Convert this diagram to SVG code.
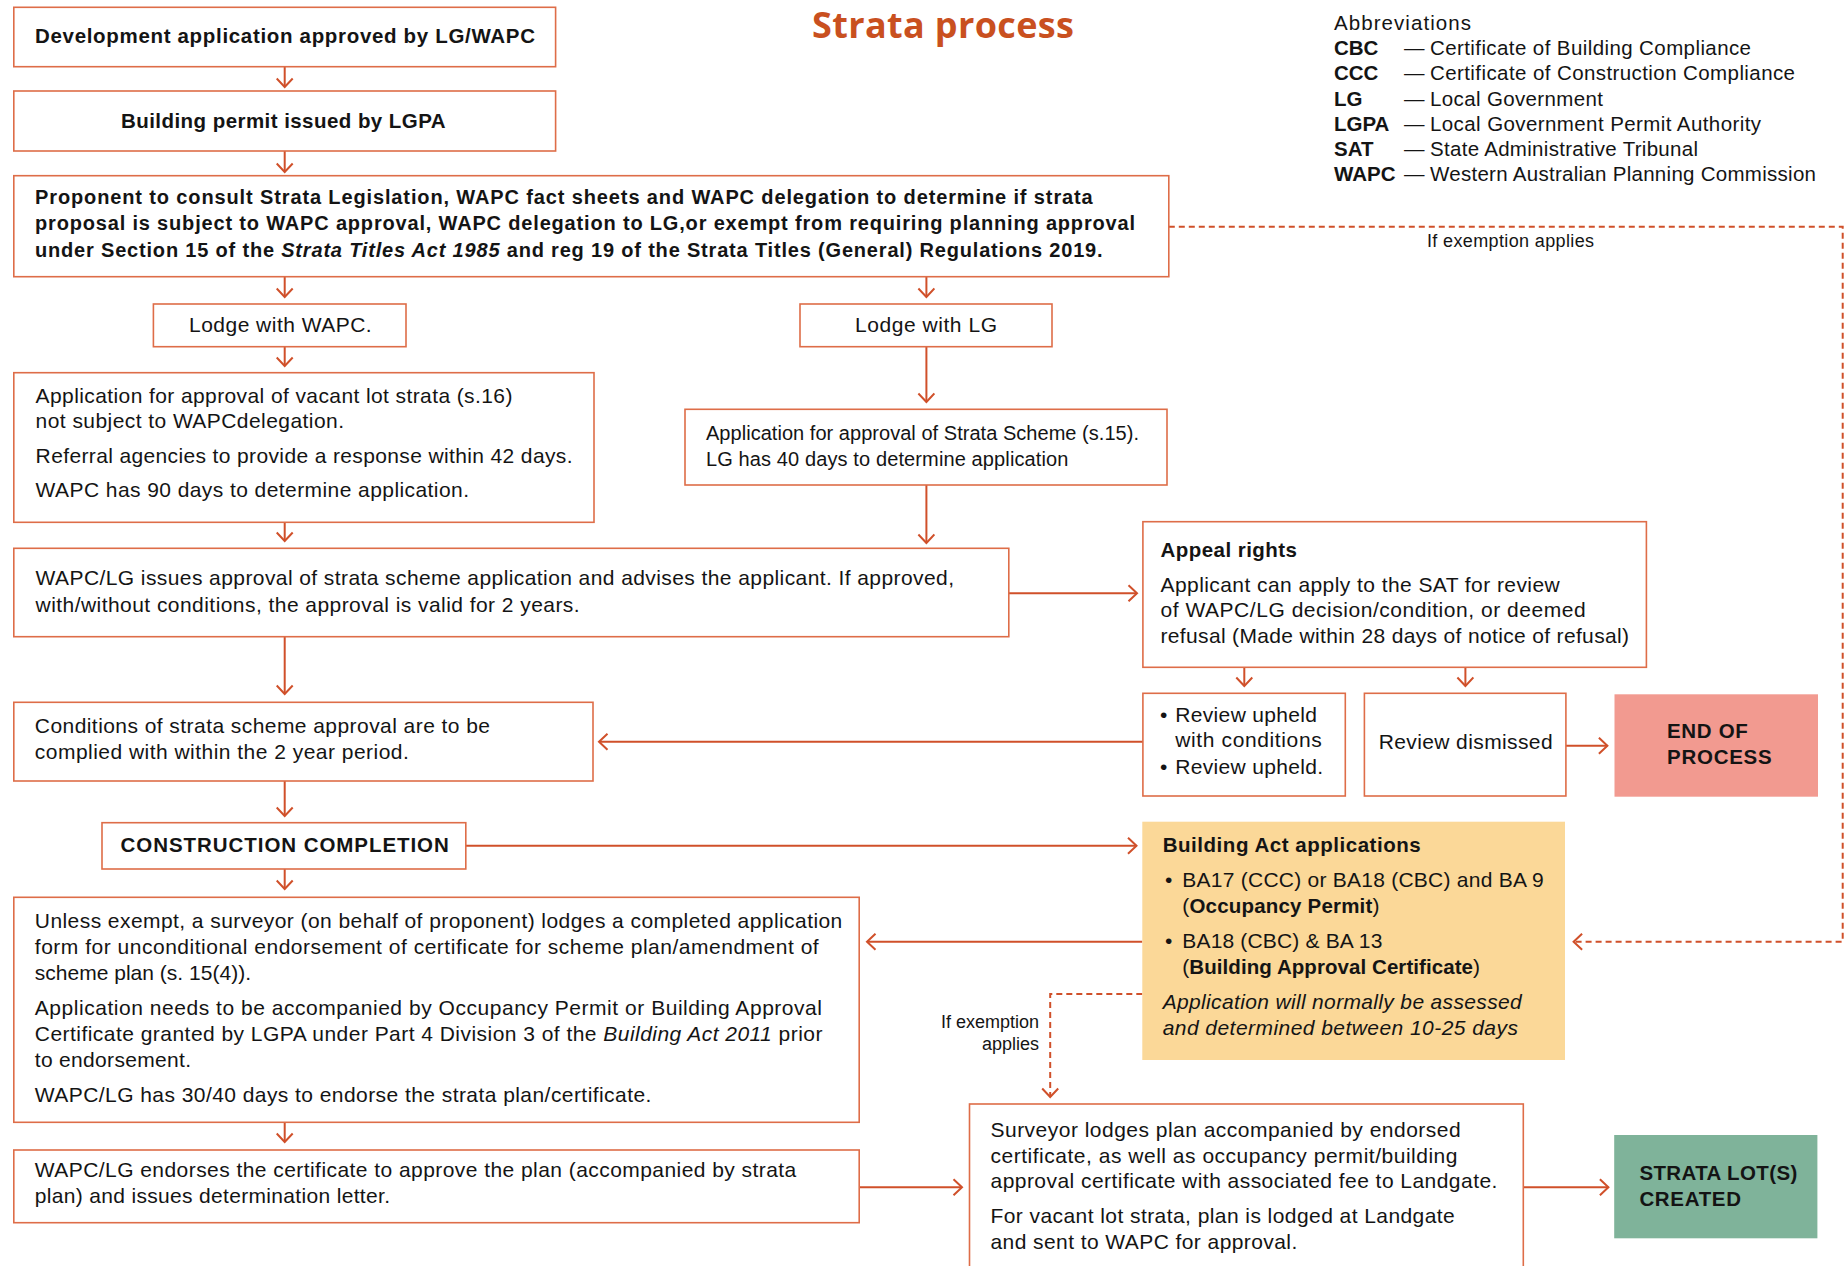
<svg xmlns="http://www.w3.org/2000/svg" width="1847" height="1266" viewBox="0 0 1847 1266">
<defs>
<style>
.bx{fill:#fff;stroke:#DE6D48;stroke-width:1.6}
.c{fill:none;stroke:#D0502A;stroke-width:2;marker-end:url(#arr)}
.d{fill:none;stroke:#D0502A;stroke-width:2;stroke-dasharray:6 4;marker-end:url(#arr)}
text{font-family:"Liberation Sans",Arial,sans-serif;font-size:21px;fill:#141414}
.b{font-weight:bold;font-size:20.5px}
.i{font-style:italic}
.sm{font-size:18px}
.h{font-size:20px;font-weight:bold}
.n{font-size:20px}
.ab{font-size:20.5px}
</style>
<marker id="arr" viewBox="0 0 12 18" refX="10" refY="9" markerWidth="12" markerHeight="18" orient="auto" markerUnits="userSpaceOnUse">
<path d="M1.5,1 L10,9 L1.5,17" fill="none" stroke="#D0502A" stroke-width="2"/>
</marker>
</defs>
<rect width="1847" height="1266" fill="#fff"/>

<g id="title">
<text x="812" y="38" textLength="262" style="font-family:'Open Sans','Liberation Sans',sans-serif;font-size:36px;font-weight:bold;fill:#C9501F">Strata process</text>
</g>

<g id="abbreviations">
<text class="ab" x="1334" y="30" textLength="137">Abbreviations</text>
<text class="b" x="1334" y="55.3">CBC</text>
<text class="b" x="1334" y="80.4">CCC</text>
<text class="b" x="1334" y="105.5">LG</text>
<text class="b" x="1334" y="130.6">LGPA</text>
<text class="b" x="1334" y="155.7">SAT</text>
<text class="b" x="1334" y="180.8">WAPC</text>
<text class="ab" x="1404" y="55.3">—</text>
<text class="ab" x="1404" y="80.4">—</text>
<text class="ab" x="1404" y="105.5">—</text>
<text class="ab" x="1404" y="130.6">—</text>
<text class="ab" x="1404" y="155.7">—</text>
<text class="ab" x="1404" y="180.8">—</text>
<text class="ab" x="1430" y="55.3" textLength="321">Certificate of Building Compliance</text>
<text class="ab" x="1430" y="80.4" textLength="365">Certificate of Construction Compliance</text>
<text class="ab" x="1430" y="105.5" textLength="173">Local Government</text>
<text class="ab" x="1430" y="130.6" textLength="331">Local Government Permit Authority</text>
<text class="ab" x="1430" y="155.7" textLength="268">State Administrative Tribunal</text>
<text class="ab" x="1430" y="180.8" textLength="386">Western Australian Planning Commission</text>
</g>

<g id="connectors">
<path class="c" d="M284.7,67 V87"/>
<path class="c" d="M284.7,151 V172"/>
<path class="c" d="M284.7,277 V297"/>
<path class="c" d="M926.4,277 V297"/>
<path class="c" d="M284.7,347 V366"/>
<path class="c" d="M926.4,347 V402"/>
<path class="c" d="M284.7,522.3 V541"/>
<path class="c" d="M926.4,485 V543"/>
<path class="c" d="M1009,593.3 H1137"/>
<path class="c" d="M1244.3,667.3 V686"/>
<path class="c" d="M1465.4,667.3 V686"/>
<path class="c" d="M1566,745.7 H1607.4"/>
<path class="c" d="M1143,741.7 H599"/>
<path class="c" d="M284.7,636.7 V694"/>
<path class="c" d="M284.7,781 V816"/>
<path class="c" d="M465.8,845.7 H1136.5"/>
<path class="c" d="M284.7,869 V889"/>
<path class="c" d="M1142.3,941.7 H867"/>
<path class="d" d="M1142.3,994 H1050.2 V1097"/>
<path class="c" d="M284.7,1122.3 V1142"/>
<path class="c" d="M859.2,1187.3 H962"/>
<path class="c" d="M1523.3,1187.3 H1608.4"/>
<path class="d" d="M1168.8,226.7 H1842.7 V941.7 H1573.6"/>
<text class="sm" x="1427" y="246.7" textLength="167">If exemption applies</text>
<text class="sm" x="1039" y="1028.3" text-anchor="end">If exemption</text>
<text class="sm" x="1039" y="1050" text-anchor="end">applies</text>
</g>

<g id="n-dev-approved">
<rect class="bx" x="13.8" y="7.3" width="541.8" height="59.4"/>
<text class="b" x="35" y="43" textLength="500">Development application approved by LG/WAPC</text>
</g>

<g id="n-building-permit">
<rect class="bx" x="13.8" y="91" width="541.8" height="60"/>
<text class="b" x="121" y="128.3" textLength="324.6">Building permit issued by LGPA</text>
</g>

<g id="n-proponent">
<rect class="bx" x="13.8" y="175.7" width="1155" height="101"/>
<text class="h" x="35" y="204" textLength="1057.7">Proponent to consult Strata Legislation, WAPC fact sheets and WAPC delegation to determine if strata</text>
<text class="h" x="35" y="230" textLength="1100">proposal is subject to WAPC approval, WAPC delegation to LG,or exempt from requiring planning approval</text>
<text class="h" x="35" y="256.7" textLength="1067.6">under Section 15 of the <tspan class="i">Strata Titles Act 1985</tspan> and reg 19 of the Strata Titles (General) Regulations 2019.</text>
</g>

<g id="n-lodge-wapc">
<rect class="bx" x="153.4" y="304" width="252.6" height="42.7"/>
<text x="189" y="331.7" textLength="182.7">Lodge with WAPC.</text>
</g>

<g id="n-lodge-lg">
<rect class="bx" x="800" y="304" width="252" height="42.7"/>
<text x="855" y="331.7" textLength="142">Lodge with LG</text>
</g>

<g id="n-vacant-lot">
<rect class="bx" x="13.8" y="372.7" width="580.2" height="149.6"/>
<text x="35.6" y="403.3" textLength="476.8">Application for approval of vacant lot strata (s.16)</text>
<text x="35.6" y="428.3" textLength="308.4">not subject to WAPCdelegation.</text>
<text x="35.6" y="463.3" textLength="536.9">Referral agencies to provide a response within 42 days.</text>
<text x="35.6" y="496.7" textLength="433.4">WAPC has 90 days to determine application.</text>
</g>

<g id="n-strata-scheme">
<rect class="bx" x="685" y="409.3" width="482" height="75.7"/>
<text class="n" x="706" y="440" textLength="433">Application for approval of Strata Scheme (s.15).</text>
<text class="n" x="706" y="465.7" textLength="362.4">LG has 40 days to determine application</text>
</g>

<g id="n-issues-approval">
<rect class="bx" x="13.8" y="548.3" width="995" height="88.4"/>
<text x="35.6" y="585" textLength="918.4">WAPC/LG issues approval of strata scheme application and advises the applicant. If approved,</text>
<text x="35.6" y="611.7" textLength="544">with/without conditions, the approval is valid for 2 years.</text>
</g>

<g id="n-appeal">
<rect class="bx" x="1142.9" y="521.7" width="503.5" height="145.6"/>
<text class="b" x="1160.5" y="557.3" textLength="136.5">Appeal rights</text>
<text x="1160.5" y="591.7" textLength="399.2">Applicant can apply to the SAT for review</text>
<text x="1160.5" y="617.3" textLength="425.1">of WAPC/LG decision/condition, or deemed</text>
<text x="1160.5" y="643.3" textLength="468.5">refusal (Made within 28 days of notice of refusal)</text>
</g>

<g id="n-review-upheld">
<rect class="bx" x="1142.9" y="693.3" width="202.4" height="102.7"/>
<text x="1160" y="721.7">•</text>
<text x="1175.3" y="721.7" textLength="141.7">Review upheld</text>
<text x="1175.3" y="747.3" textLength="146.4">with conditions</text>
<text x="1160" y="774">•</text>
<text x="1175.3" y="774" textLength="147.7">Review upheld.</text>
</g>

<g id="n-review-dismissed">
<rect class="bx" x="1364.4" y="693.3" width="201.5" height="102.7"/>
<text x="1378.7" y="749.3" textLength="173.9">Review dismissed</text>
</g>

<g id="n-end">
<rect x="1614.5" y="694.3" width="203.5" height="102.4" fill="#F29A90"/>
<text class="b" x="1667" y="738.3" textLength="80.9">END OF</text>
<text class="b" x="1667" y="764" textLength="104.7">PROCESS</text>
</g>

<g id="n-conditions">
<rect class="bx" x="13.8" y="702.3" width="579.2" height="78.7"/>
<text x="34.8" y="733.3" textLength="455.2">Conditions of strata scheme approval are to be</text>
<text x="34.8" y="759.3" textLength="374">complied with within the 2 year period.</text>
</g>

<g id="n-construction">
<rect class="bx" x="102" y="822.7" width="363.8" height="46.3"/>
<text class="b" x="120.6" y="851.7" textLength="328.2">CONSTRUCTION COMPLETION</text>
</g>

<g id="n-building-act">
<rect x="1142.3" y="821.7" width="422.7" height="238.3" fill="#FBD898"/>
<text class="b" x="1162.7" y="851.7" textLength="258">Building Act applications</text>
<text x="1165" y="887.3">•</text>
<text x="1182.3" y="887.3" textLength="361.5">BA17 (CCC) or BA18 (CBC) and BA 9</text>
<text x="1182.3" y="913.3" textLength="197.2">(<tspan class="b">Occupancy Permit</tspan>)</text>
<text x="1165" y="948.3">•</text>
<text x="1182.3" y="948.3" textLength="200.1">BA18 (CBC) &amp; BA 13</text>
<text x="1182.3" y="974" textLength="297.7">(<tspan class="b">Building Approval Certificate</tspan>)</text>
<text class="i" x="1162.7" y="1009.3" textLength="359">Application will normally be assessed</text>
<text class="i" x="1162.7" y="1035" textLength="355.2">and determined between 10-25 days</text>
</g>

<g id="n-surveyor-application">
<rect class="bx" x="13.8" y="897.3" width="845.4" height="225"/>
<text x="34.8" y="928.3" textLength="807.5">Unless exempt, a surveyor (on behalf of proponent) lodges a completed application</text>
<text x="34.8" y="954" textLength="783.9">form for unconditional endorsement of certificate for scheme plan/amendment of</text>
<text x="34.8" y="980" textLength="216.2">scheme plan (s. 15(4)).</text>
<text x="34.8" y="1015" textLength="787.2">Application needs to be accompanied by Occupancy Permit or Building Approval</text>
<text x="34.8" y="1040.7" textLength="787.6">Certificate granted by LGPA under Part 4 Division 3 of the <tspan class="i">Building Act 2011</tspan> prior</text>
<text x="34.8" y="1067.3" textLength="156.2">to endorsement.</text>
<text x="34.8" y="1101.7" textLength="616.6">WAPC/LG has 30/40 days to endorse the strata plan/certificate.</text>
</g>

<g id="n-endorses">
<rect class="bx" x="13.8" y="1150" width="845.4" height="72.7"/>
<text x="34.8" y="1176.7" textLength="761.5">WAPC/LG endorses the certificate to approve the plan (accompanied by strata</text>
<text x="34.8" y="1202.7" textLength="355.2">plan) and issues determination letter.</text>
</g>

<g id="n-surveyor-lodges">
<rect class="bx" x="969.5" y="1104" width="553.8" height="170"/>
<text x="990.5" y="1136.7" textLength="470.1">Surveyor lodges plan accompanied by endorsed</text>
<text x="990.5" y="1162.7" textLength="467">certificate, as well as occupancy permit/building</text>
<text x="990.5" y="1188.3" textLength="506.9">approval certificate with associated fee to Landgate.</text>
<text x="990.5" y="1223.3" textLength="464.3">For vacant lot strata, plan is lodged at Landgate</text>
<text x="990.5" y="1249.3" textLength="306.8">and sent to WAPC for approval.</text>
</g>

<g id="n-strata-created">
<rect x="1614.2" y="1135" width="203.2" height="103.3" fill="#7FB39A"/>
<text class="b" x="1639.4" y="1180" textLength="157.9">STRATA LOT(S)</text>
<text class="b" x="1639.4" y="1206" textLength="101.6">CREATED</text>
</g>
</svg>
